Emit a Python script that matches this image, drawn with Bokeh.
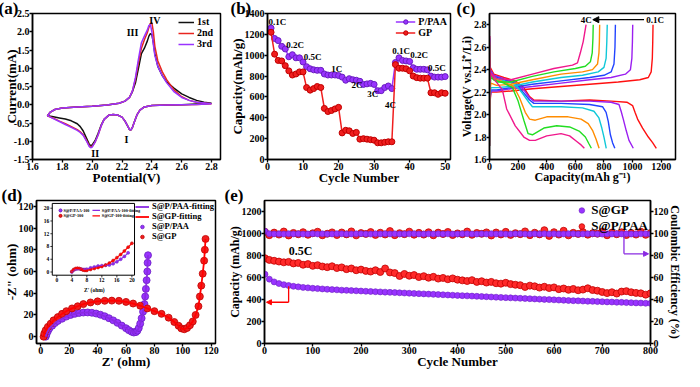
import math
from bokeh.plotting import figure
from bokeh.layouts import column, row
from bokeh.models import (Range1d, Legend, LegendItem, Arrow, NormalHead, LinearAxis,
                          FixedTicker, NumeralTickFormatter)
from bokeh.embed import file_html
from bokeh.resources import INLINE
from bokeh.core.properties import value

FONT = "Liberation Serif"
BLACK = "#111111"
RED = "#F01E1E"
RED_EDGE = "#C00000"
PURPLE = "#9933FF"
PURPLE_EDGE = "#6A1FC0"

# ---------------- (a) CV data ----------------
cv_potential = [2.80, 2.70, 2.60, 2.50, 2.40, 2.35, 2.32, 2.30, 2.28, 2.27, 2.26, 2.25, 2.24, 2.22, 2.20,
                2.17, 2.14, 2.11, 2.08, 2.06, 2.04, 2.02, 2.00, 1.99, 1.98, 1.96, 1.94, 1.92, 1.90, 1.86,
                1.82, 1.78, 1.74, 1.70,
                1.72, 1.75, 1.80, 1.90, 2.00, 2.10, 2.18, 2.22, 2.25, 2.27, 2.29, 2.31, 2.33, 2.35, 2.37,
                2.38, 2.39, 2.40, 2.41, 2.42, 2.44, 2.47, 2.50, 2.55, 2.60, 2.65, 2.70, 2.75, 2.80]
cv_1st = [0.04, 0.02, 0.00, -0.01, -0.02, -0.06, -0.15, -0.28, -0.50, -0.62, -0.69, -0.68, -0.60, -0.45, -0.34,
          -0.28, -0.27, -0.29, -0.40, -0.56, -0.78, -0.98, -1.10, -1.12, -1.08, -0.90, -0.72, -0.60, -0.52, -0.44,
          -0.39, -0.36, -0.33, -0.30,
          -0.20, -0.13, -0.09, -0.06, -0.04, -0.01, 0.04, 0.10, 0.20, 0.36, 0.60, 1.00, 1.40, 1.55, 1.75,
          1.88, 1.95, 1.92, 1.70, 1.40, 1.05, 0.80, 0.62, 0.45, 0.30, 0.20, 0.12, 0.07, 0.04]
cv_2nd = [0.03, 0.01, 0.00, -0.01, -0.02, -0.06, -0.15, -0.28, -0.50, -0.62, -0.69, -0.68, -0.60, -0.45, -0.34,
          -0.28, -0.27, -0.29, -0.40, -0.58, -0.82, -1.02, -1.14, -1.16, -1.12, -0.96, -0.82, -0.74, -0.68, -0.60,
          -0.52, -0.45, -0.37, -0.30,
          -0.20, -0.13, -0.09, -0.06, -0.04, -0.01, 0.04, 0.10, 0.20, 0.38, 0.70, 1.15, 1.55, 1.78, 1.98,
          2.12, 2.22, 2.25, 2.00, 1.60, 1.20, 0.90, 0.68, 0.40, 0.22, 0.12, 0.07, 0.05, 0.03]
cv_3rd = [0.03, 0.01, 0.00, -0.01, -0.02, -0.06, -0.15, -0.28, -0.50, -0.62, -0.69, -0.68, -0.60, -0.45, -0.34,
          -0.28, -0.27, -0.29, -0.40, -0.58, -0.82, -1.02, -1.16, -1.18, -1.14, -0.98, -0.84, -0.76, -0.70, -0.62,
          -0.54, -0.46, -0.38, -0.30,
          -0.20, -0.13, -0.09, -0.06, -0.04, -0.01, 0.04, 0.10, 0.20, 0.38, 0.75, 1.25, 1.70, 1.88, 2.05,
          2.17, 2.20, 2.00, 1.65, 1.35, 1.05, 0.80, 0.60, 0.35, 0.20, 0.12, 0.07, 0.05, 0.03]
cv_peak_text = ["I", "II", "III", "IV"]
cv_peak_x = [2.23, 2.02, 2.27, 2.42]
cv_peak_y = [-0.95, -1.33, 1.98, 2.32]
cv_xticks = [1.6, 1.8, 2.0, 2.2, 2.4, 2.6, 2.8]
cv_yticks = [-1.5, -1.0, -0.5, 0.0, 0.5, 1.0, 1.5, 2.0, 2.5]

# ---------------- (b) rate data ----------------
rate_cycle = list(range(1, 51))
rate_ppaa = [1260, 1160, 1140, 1085, 1060, 985, 1005, 975, 975, 935,
             890, 870, 860, 855, 855, 820, 810, 810, 810, 805,
             790, 760, 775, 765, 760, 750, 720, 725, 730, 720,
             660, 660, 690, 705, 680, 930, 975, 950, 945, 940,
             880, 865, 865, 865, 860, 800, 790, 790, 790, 795]
rate_gp = [1220, 1010, 950, 945, 900, 850, 810, 820, 840, 840,
           690, 665, 680, 700, 690, 490, 460, 470, 485, 500,
           255, 280, 275, 250, 260, 195, 200, 195, 190, 185,
           160, 160, 165, 170, 170, 910, 875, 875, 870, 850,
           800, 785, 780, 780, 780, 640, 640, 625, 640, 635]
rate_lab_txt = ["0.1C", "0.2C", "0.5C", "1C", "2C", "3C", "4C", "0.1C", "0.2C", "0.5C"]
rate_lab_x = [2.8, 7.8, 12.7, 19.5, 25.2, 29.6, 34.6, 37.6, 42.7, 47.7]
rate_lab_y = [1320, 1100, 985, 870, 715, 625, 525, 1040, 1000, 880]
rate_xticks = [0, 10, 20, 30, 40, 50]
rate_yticks = [0, 200, 400, 600, 800, 1000, 1200, 1400]

# ---------------- (c) charge/discharge data ----------------
gc_rates = ["0.1C", "0.2C", "0.5C", "1C", "2C", "3C", "4C"]
gc_colors = ["#FF1010", "#9B1FF0", "#2244FF", "#10C8D8", "#FF8C00", "#22DD22", "#F0188C"]
c01_dis_cap = [0, 5, 30, 100, 180, 240, 280, 310, 500, 700, 850, 960, 1000, 1017, 1035, 1070, 1110, 1140, 1166]
c01_dis_v = [2.70, 2.42, 2.36, 2.33, 2.30, 2.24, 2.16, 2.13, 2.12, 2.13, 2.12, 2.11, 2.08, 2.02, 1.96, 1.88, 1.80, 1.75, 1.70]
c01_chg_cap = [0, 3, 10, 50, 150, 300, 500, 700, 900, 1050, 1110, 1130, 1138, 1141, 1143]
c01_chg_v = [1.72, 2.10, 2.20, 2.20, 2.21, 2.23, 2.25, 2.27, 2.29, 2.31, 2.33, 2.38, 2.50, 2.65, 2.80]
c02_dis_cap = [0, 5, 30, 100, 180, 240, 280, 310, 500, 700, 850, 905, 920, 935, 955, 975, 1005]
c02_dis_v = [2.70, 2.40, 2.35, 2.32, 2.29, 2.22, 2.15, 2.12, 2.12, 2.12, 2.11, 2.09, 2.03, 1.96, 1.86, 1.77, 1.70]
c02_chg_cap = [0, 3, 10, 50, 150, 300, 500, 700, 850, 950, 985, 995, 999, 1001]
c02_chg_v = [1.72, 2.12, 2.21, 2.21, 2.23, 2.25, 2.28, 2.31, 2.33, 2.36, 2.40, 2.50, 2.65, 2.80]
c05_dis_cap = [0, 5, 30, 100, 180, 235, 280, 310, 500, 700, 790, 815, 830, 845, 860, 876]
c05_dis_v = [2.68, 2.39, 2.34, 2.31, 2.28, 2.20, 2.13, 2.10, 2.10, 2.09, 2.07, 2.02, 1.94, 1.82, 1.75, 1.70]
c05_chg_cap = [0, 3, 10, 50, 150, 300, 500, 700, 800, 850, 870, 877, 880]
c05_chg_v = [1.72, 2.14, 2.22, 2.22, 2.24, 2.27, 2.30, 2.33, 2.35, 2.38, 2.45, 2.60, 2.80]
c1_dis_cap = [0, 5, 30, 100, 180, 230, 275, 300, 500, 650, 730, 765, 785, 800, 816]
c1_dis_v = [2.66, 2.38, 2.33, 2.30, 2.27, 2.19, 2.11, 2.07, 2.07, 2.06, 2.03, 1.97, 1.88, 1.80, 1.70]
c1_chg_cap = [0, 3, 10, 50, 150, 300, 500, 650, 760, 800, 815, 820, 823]
c1_chg_v = [1.72, 2.16, 2.24, 2.24, 2.25, 2.29, 2.33, 2.35, 2.38, 2.42, 2.50, 2.65, 2.80]
c2_dis_cap = [0, 5, 30, 100, 170, 210, 250, 280, 320, 400, 550, 640, 690, 720, 745, 766]
c2_dis_v = [2.65, 2.37, 2.32, 2.29, 2.25, 2.15, 2.02, 1.96, 1.95, 1.98, 1.98, 1.96, 1.92, 1.86, 1.78, 1.70]
c2_chg_cap = [0, 3, 10, 50, 150, 300, 500, 650, 720, 755, 765, 768, 770]
c2_chg_v = [1.72, 2.20, 2.28, 2.26, 2.27, 2.31, 2.36, 2.38, 2.40, 2.45, 2.55, 2.65, 2.80]
c3_dis_cap = [0, 5, 30, 100, 160, 200, 240, 270, 300, 380, 470, 560, 630, 670, 695, 712]
c3_dis_v = [2.62, 2.36, 2.31, 2.28, 2.24, 2.12, 1.95, 1.83, 1.82, 1.88, 1.90, 1.89, 1.85, 1.80, 1.74, 1.70]
c3_chg_cap = [0, 3, 10, 50, 150, 300, 450, 600, 670, 705, 718, 723, 725]
c3_chg_v = [1.72, 2.24, 2.33, 2.29, 2.29, 2.34, 2.38, 2.41, 2.43, 2.47, 2.55, 2.68, 2.80]
c4_dis_cap = [0, 5, 30, 90, 120, 180, 240, 280, 320, 400, 500, 560, 610, 640, 663]
c4_dis_v = [2.70, 2.38, 2.32, 2.22, 2.05, 1.90, 1.80, 1.77, 1.77, 1.81, 1.83, 1.81, 1.76, 1.73, 1.70]
c4_chg_cap = [0, 3, 10, 50, 150, 300, 450, 580, 615, 635, 655, 675]
c4_chg_v = [1.72, 2.28, 2.37, 2.32, 2.31, 2.36, 2.41, 2.44, 2.46, 2.55, 2.65, 2.80]
gc_xticks = [0, 200, 400, 600, 800, 1000, 1200]
gc_yticks = [1.6, 1.8, 2.0, 2.2, 2.4, 2.6, 2.8]

# ---------------- (d) EIS data ----------------
nyq_ppaa_x = [3.5, 4, 5, 6, 8, 10, 12, 15, 18, 21, 24, 27, 30, 33, 36, 39, 42, 45, 48, 51, 54, 57, 60, 62, 64,
              65.5, 67, 68, 69, 70, 71, 72, 73, 73.5, 74, 74.5, 75, 75.2, 75.5]
nyq_ppaa_y = [0, 2, 5, 7.5, 10, 12.5, 14.5, 16.5, 18.5, 20, 21, 21.8, 22.2, 22.3, 22, 21.3, 20.2, 18.8, 17, 15,
              12.7, 10.2, 7.8, 6, 4.5, 3.8, 4.2, 5.5, 8, 12, 17, 23, 30, 37, 44, 52, 60, 68, 75]
nyq_gp_x = [2, 2.5, 3.5, 5, 7, 9, 12, 15, 18, 22, 26, 30, 35, 40, 45, 50, 55, 60, 65, 70, 75, 80, 85, 90, 94,
            97, 99, 101, 103, 105, 107, 109, 111, 112, 113, 114, 115, 115.5, 116]
nyq_gp_y = [0, 3, 6, 9, 12, 15, 18, 21, 23.5, 26, 28, 30, 31.5, 32.5, 33, 33.2, 33, 32, 30.5, 28.5, 26, 23.5,
            21, 17.5, 13.5, 10, 7.6, 6.8, 8, 10.5, 14, 20, 28, 37, 47, 58, 70, 80, 90]
ins_ppaa_x = [4, 4.5, 5, 5.5, 6, 6.5, 7, 7.5, 8, 9, 10, 11, 12, 13, 14, 15, 16, 17, 18, 19]
ins_ppaa_y = [0, 0.6, 0.9, 1.0, 1.0, 0.9, 0.8, 0.8, 0.9, 1.3, 1.6, 1.9, 2.0, 2.1, 2.2, 2.6, 3.2, 4.0, 4.9, 6.0]
ins_gp_x = [4, 4.5, 5, 5.5, 6, 6.5, 7, 7.5, 8, 9, 10, 11, 12, 13, 14, 15, 16, 17, 18, 19, 20]
ins_gp_y = [0.2, 0.8, 1.1, 1.2, 1.1, 0.9, 0.6, 0.5, 0.5, 0.8, 1.1, 1.4, 1.7, 2.2, 2.8, 3.6, 4.5, 5.5, 6.6, 7.8, 9.0]
ins_ticks = [0, 4, 8, 12, 16, 20]
ins_tick_txt = ["0", "4", "8", "12", "16", "20"]
eis_ticks = [0, 20, 40, 60, 80, 100, 120]
# inset placement inside panel (d), in panel (d) data units
INSET_BOX = dict(left=8.1, right=66.0, bottom=56.6, top=122.7)
INSET_SRC = dict(x0=-1.2, x1=20.7, y0=-1.0, y1=21.5)

# ---------------- (e) long cycling data ----------------
cyc = [1] + list(range(10, 801, 10))
cap_ppaa = [775, 760, 752, 745, 738, 742, 728, 732, 716, 722,
            706, 712, 700, 694, 702, 686, 692, 676, 682, 666,
            672, 660, 654, 666, 650, 682, 646, 640, 614, 632,
            616, 622, 604, 612, 598, 606, 590, 596, 584, 592,
            580, 574, 568, 576, 560, 566, 554, 560, 548, 544,
            552, 540, 534, 530, 514, 526, 520, 508, 516, 504,
            510, 494, 500, 488, 496, 484, 490, 502, 486, 480,
            468, 458, 466, 454, 472, 476, 466, 460, 456, 444,
            456]
cap_gp = [630, 585, 560, 545, 535, 527, 520, 515, 510, 506,
          502, 499, 496, 493, 490, 488, 485, 483, 481, 479,
          477, 475, 473, 471, 469, 467, 465, 463, 461, 459,
          457, 455, 453, 451, 449, 447, 445, 443, 441, 439,
          437, 435, 433, 431, 429, 427, 425, 423, 421, 419,
          417, 415, 413, 411, 409, 407, 405, 403, 401, 399,
          397, 395, 393, 391, 389, 388, 386, 384, 383, 381,
          380, 378, 377, 375, 374, 372, 371, 369, 368, 366,
          365]
ce_ppaa = [101.5, 98.5, 100.8, 99.0, 101.8, 98.2, 100.5, 99.3, 101.2, 98.8,
           100.2, 101.6, 98.4, 99.8, 101.0, 98.6, 100.9, 99.2, 101.9, 98.3,
           100.4, 99.6, 101.3, 98.7, 100.7, 99.1, 102.2, 98.5, 100.3, 99.4,
           101.7, 98.9, 100.6, 99.0, 101.1, 98.4, 100.8, 99.5, 101.4, 98.6,
           100.1, 99.3, 101.8, 98.8, 100.5, 99.7, 101.0, 98.2, 100.9, 99.1,
           101.5, 98.7, 100.3, 99.4, 101.9, 98.5, 100.7, 99.2, 103.0, 97.8,
           101.2, 99.0, 102.5, 98.3, 100.6, 99.6, 101.3, 98.9, 100.2, 99.8,
           101.7, 98.4, 100.8, 99.3, 101.1, 98.6, 100.5, 99.0, 101.6, 98.8,
           100.4]
ce_gp = [102.0, 99.8, 99.6, 99.7, 99.5, 99.8, 99.6, 99.7, 99.5, 99.6,
         99.8, 99.6, 99.7, 99.5, 99.6, 99.8, 99.7, 99.5, 99.6, 99.7,
         99.8, 99.6, 99.5, 99.7, 99.6, 99.8, 99.6, 99.7, 99.5, 99.6,
         99.7, 99.8, 99.6, 99.5, 99.7, 99.6, 99.8, 99.6, 99.7, 99.5,
         99.6, 99.7, 99.8, 99.6, 99.5, 99.7, 99.6, 99.8, 99.6, 99.7,
         99.5, 99.6, 99.7, 99.8, 99.6, 99.5, 99.7, 99.6, 99.8, 99.6,
         99.7, 99.5, 99.6, 99.8, 99.7, 99.5, 99.6, 99.7, 99.8, 99.6,
         99.5, 99.7, 99.6, 99.8, 99.6, 99.7, 99.5, 99.6, 99.7, 99.8,
         99.6]
cyc_xticks = [0, 100, 200, 300, 400, 500, 600, 700, 800]
cyc_yticks = [0, 200, 400, 600, 800, 1000, 1200]
ce_ticks = [0, 20, 40, 60, 80, 100, 120]
arrow_red_x = [50, 50, 4]
arrow_red_y = [520, 375, 375]
arrow_pur_x = [745, 745, 796]
arrow_pur_y = [990, 815, 815]


def make_fig(w, h, xr, yr, bl, br, bt, bb):
    return figure(width=w, height=h, x_range=Range1d(*xr), y_range=Range1d(*yr),
                  output_backend="svg", toolbar_location=None,
                  min_border_left=bl, min_border_right=br, min_border_top=bt, min_border_bottom=bb)


def style(p, lab_size="13px", ylab_standoff=-3):
    p.outline_line_color = "black"
    p.outline_line_width = 1.5
    p.outline_line_alpha = 1
    p.grid.visible = False
    for ax in p.axis:
        ax.axis_line_width = 1.5
        ax.axis_line_color = "black"
        ax.major_tick_line_width = 1.3
        ax.major_tick_line_color = "black"
        ax.major_tick_out = 3
        ax.major_tick_in = 0
        ax.minor_tick_line_color = None
        ax.major_label_text_font = FONT
        ax.major_label_text_font_style = "bold"
        ax.major_label_text_font_size = "10px"
        ax.major_label_text_color = "black"
        ax.axis_label_text_font = FONT
        ax.axis_label_text_font_style = "bold"
        ax.axis_label_text_font_size = lab_size
        ax.axis_label_text_color = "black"
        ax.major_label_standoff = 0
        ax.axis_label_standoff = ylab_standoff
    for ax in p.xaxis:
        ax.axis_label_standoff = -3


def panel_label(p, txt, dx, dy=-8):
    t = p.title
    t.text = txt
    t.align = "left"
    t.offset = dx
    t.standoff = dy
    t.text_font = FONT
    t.text_font_style = "bold"
    t.text_font_size = "17px"
    t.text_color = "black"


def make_legend(p, items, size="10px", gw=18, gh=10, lh=10, loc="top_right", margin=3):
    lg = Legend(items=items, location=loc, background_fill_alpha=0, border_line_color=None,
                label_text_font=FONT, label_text_font_style="bold", label_text_font_size=size,
                label_text_color="black",
                glyph_width=gw, glyph_height=gh, label_height=lh, spacing=0, padding=2,
                margin=margin, label_standoff=3)
    p.add_layout(lg)
    return lg


TXT = dict(text_font=value(FONT), text_font_style="bold", text_color="black")

# ---------------- (a) ----------------
pa = make_fig(226, 187, (1.6, 2.86), (-1.5, 2.5), 32, 6, 10, 26)
la1 = pa.line(cv_potential, cv_1st, color=BLACK, line_width=1.5)
la2 = pa.line(cv_potential, cv_2nd, color="#E8251F", line_width=1.5)
la3 = pa.line(cv_potential, cv_3rd, color=PURPLE, line_width=1.5)
pa.text(x=cv_peak_x, y=cv_peak_y, text=cv_peak_text, text_font_size="10px",
        text_align="center", text_baseline="middle", **TXT)
pa.xaxis.axis_label = "Potential(V)"
pa.yaxis.axis_label = "Current(mA)"
pa.xaxis.ticker = FixedTicker(ticks=cv_xticks)
pa.yaxis.ticker = FixedTicker(ticks=cv_yticks)
pa.xaxis.formatter = NumeralTickFormatter(format="0.0")
pa.yaxis.formatter = NumeralTickFormatter(format="0.0")
make_legend(pa, [("1st", [la1]), ("2nd", [la2]), ("3rd", [la3])], gw=16)
style(pa, ylab_standoff=-8)
panel_label(pa, "(a)", -34)

# ---------------- (b) ----------------
pb = make_fig(228, 187, (0, 51.5), (0, 1400), 36, 4, 10, 26)
lb1 = pb.line(rate_cycle, rate_ppaa, color=PURPLE, line_width=1.5)
sb1 = pb.scatter(rate_cycle, rate_ppaa, size=6, fill_color=PURPLE, line_color=PURPLE_EDGE)
lb2 = pb.line(rate_cycle, rate_gp, color=RED, line_width=1.5)
sb2 = pb.scatter(rate_cycle, rate_gp, size=6, fill_color=RED, line_color=RED_EDGE)
pb.text(x=rate_lab_x, y=rate_lab_y, text=rate_lab_txt, text_font_size="9px",
        text_align="center", text_baseline="middle", **TXT)
pb.xaxis.axis_label = "Cycle Number"
pb.yaxis.axis_label = "Capacity(mAh/g)"
pb.xaxis.ticker = FixedTicker(ticks=rate_xticks)
pb.yaxis.ticker = FixedTicker(ticks=rate_yticks)
make_legend(pb, [LegendItem(label="P/PAA", renderers=[lb1, sb1]),
                 LegendItem(label="GP", renderers=[lb2, sb2])], gw=20, gh=11, lh=11)
style(pb)
panel_label(pb, "(b)", -37)

# ---------------- (c) ----------------
pc = make_fig(230, 187, (0, 1300), (1.6, 2.9), 35, 9, 10, 26)
gc_dis = [(c01_dis_cap, c01_dis_v), (c02_dis_cap, c02_dis_v), (c05_dis_cap, c05_dis_v), (c1_dis_cap, c1_dis_v),
          (c2_dis_cap, c2_dis_v), (c3_dis_cap, c3_dis_v), (c4_dis_cap, c4_dis_v)]
gc_chg = [(c01_chg_cap, c01_chg_v), (c02_chg_cap, c02_chg_v), (c05_chg_cap, c05_chg_v), (c1_chg_cap, c1_chg_v),
          (c2_chg_cap, c2_chg_v), (c3_chg_cap, c3_chg_v), (c4_chg_cap, c4_chg_v)]
for (dc, dv), (cc, cv), col in zip(gc_dis, gc_chg, gc_colors):
    pc.line(dc, dv, color=col, line_width=1.4)
    pc.line(cc, cv, color=col, line_width=1.4)
pc.add_layout(Arrow(end=NormalHead(size=6, fill_color="black", line_color="black"),
                    x_start=1080, y_start=2.845, x_end=722, y_end=2.845, line_width=1.2, line_color="black"))
pc.text(x=[715], y=[2.845], text=[gc_rates[-1]], text_font_size="9px", text_align="right",
        text_baseline="middle", **TXT)
pc.text(x=[1095], y=[2.845], text=[gc_rates[0]], text_font_size="9px", text_align="left",
        text_baseline="middle", **TXT)
pc.xaxis.axis_label = "Capacity(mAh g\u207b\u00b9)"
pc.yaxis.axis_label = "Voltage(V vs.Li\u207a/Li)"
pc.xaxis.ticker = FixedTicker(ticks=gc_xticks)
pc.yaxis.ticker = FixedTicker(ticks=gc_yticks)
pc.yaxis.formatter = NumeralTickFormatter(format="0.0")
style(pc, lab_size="12px")
panel_label(pc, "(c)", -33)

# ---------------- (d) ----------------
pdd = make_fig(224, 184, (-3, 123), (-6.3, 125.4), 30, 9, 9, 26)
sd1 = pdd.scatter(nyq_ppaa_x, nyq_ppaa_y, size=7, fill_color=PURPLE, line_color=PURPLE_EDGE, line_width=0.8)
sd2 = pdd.scatter(nyq_gp_x, nyq_gp_y, size=7, fill_color=RED, line_color=RED_EDGE, line_width=0.8)
ld1 = pdd.line(nyq_ppaa_x, nyq_ppaa_y, color="#8A2BE2", line_width=1.8)
ld2 = pdd.line(nyq_gp_x, nyq_gp_y, color="#FF0000", line_width=1.8)
# inset
pdd.quad(left=[INSET_BOX["left"]], right=[INSET_BOX["right"]], bottom=[INSET_BOX["bottom"]],
         top=[INSET_BOX["top"]], fill_color="white", line_color="black", line_width=1)
sub = pdd.subplot(x_source=Range1d(INSET_SRC["x0"], INSET_SRC["x1"]),
                  y_source=Range1d(INSET_SRC["y0"], INSET_SRC["y1"]),
                  x_target=Range1d(INSET_BOX["left"], INSET_BOX["right"]),
                  y_target=Range1d(INSET_BOX["bottom"], INSET_BOX["top"]))
sub.scatter(ins_ppaa_x, ins_ppaa_y, size=3, fill_color=PURPLE, line_color=PURPLE_EDGE, line_width=0.5)
sub.scatter(ins_gp_x, ins_gp_y, size=3, fill_color=RED, line_color=RED_EDGE, line_width=0.5)
sub.line(ins_ppaa_x, ins_ppaa_y, color="#8A2BE2", line_width=1.2)
sub.line(ins_gp_x, ins_gp_y, color="#FF0000", line_width=1.2)
y0 = INSET_SRC["y0"]
x0 = INSET_SRC["x0"]
sub.segment(x0=ins_ticks, y0=[y0] * 6, x1=ins_ticks, y1=[y0 - 0.7] * 6, color="black", line_width=0.8)
sub.segment(x0=[x0] * 6, y0=ins_ticks, x1=[x0 - 0.5] * 6, y1=ins_ticks, color="black", line_width=0.8)
sub.text(x=ins_ticks, y=[y0 - 1.0] * 6, text=ins_tick_txt, text_font_size="5.5px", text_align="center",
         text_baseline="top", **TXT)
sub.text(x=[x0 - 0.8] * 6, y=ins_ticks, text=ins_tick_txt, text_font_size="5.5px", text_align="right",
         text_baseline="middle", **TXT)
sub.text(x=[10], y=[y0 - 3.6], text=["Z' (ohm)"], text_font_size="5.5px", text_align="center",
         text_baseline="top", **TXT)
sub.text(x=[x0 - 4.6], y=[10], text=["-Z'' (ohm)"], text_font_size="5.5px", text_align="center",
         text_baseline="bottom", angle=1.5708, **TXT)
sub.scatter([1.0, 1.0], [19.3, 17.6], size=3, fill_color=[PURPLE, RED], line_color=[PURPLE_EDGE, RED_EDGE])
sub.segment(x0=[9.5, 9.5], y0=[19.3, 17.6], x1=[11.5, 11.5], y1=[19.3, 17.6], color=["#8A2BE2", "#FF0000"],
            line_width=1.2)
sub.text(x=[1.8, 1.8, 12.0, 12.0], y=[19.3, 17.6, 19.3, 17.6],
         text=["S@P/PAA-100", "S@GP-100", "S@P/PAA-100-fitting", "S@GP-100-fitting"],
         text_font_size="4.2px", text_align="left", text_baseline="middle", **TXT)
pdd.xaxis.axis_label = "Z' (ohm)"
pdd.yaxis.axis_label = "-Z\" (ohm)"
pdd.xaxis.ticker = FixedTicker(ticks=eis_ticks)
pdd.yaxis.ticker = FixedTicker(ticks=eis_ticks)
make_legend(pdd, [LegendItem(label="S@P/PAA-fitting", renderers=[ld1]),
                  LegendItem(label="S@GP-fitting", renderers=[ld2]),
                  LegendItem(label="S@P/PAA", renderers=[sd1]),
                  LegendItem(label="S@GP", renderers=[sd2])], size="8.5px", gw=14, gh=9, lh=9, margin=1)
style(pdd)
panel_label(pdd, "(d)", -35)

# ---------------- (e) ----------------
pe = make_fig(460, 184, (0, 800), (0, 1300), 40, 26, 9, 26)
pe.extra_y_ranges = {"ce": Range1d(0, 130)}
ax_ce = LinearAxis(y_range_name="ce", axis_label="Coulombic Efficiency (%)",
                   ticker=FixedTicker(ticks=ce_ticks))
pe.add_layout(ax_ce, "right")
se_r = pe.scatter(cyc, cap_ppaa, size=7, fill_color="#FF2A2A", line_color=RED_EDGE, line_width=0.8)
pe.scatter(cyc, ce_ppaa, size=7, fill_color="#FF2A2A", line_color=RED_EDGE, line_width=0.8, y_range_name="ce")
se_p = pe.scatter(cyc, cap_gp, size=6, fill_color=PURPLE, line_color=PURPLE_EDGE, line_width=0.6)
pe.scatter(cyc, ce_gp, size=6, fill_color=PURPLE, line_color=PURPLE_EDGE, line_width=0.6, y_range_name="ce")
pe.add_layout(Arrow(end=None, x_start=arrow_red_x[0], y_start=arrow_red_y[0], x_end=arrow_red_x[1],
                    y_end=arrow_red_y[1], line_color="#FF0000", line_width=1.3))
pe.add_layout(Arrow(end=NormalHead(size=5, fill_color="#FF0000", line_color="#FF0000"),
                    x_start=arrow_red_x[1], y_start=arrow_red_y[1], x_end=arrow_red_x[2],
                    y_end=arrow_red_y[2], line_color="#FF0000", line_width=1.3))
pe.add_layout(Arrow(end=None, x_start=arrow_pur_x[0], y_start=arrow_pur_y[0], x_end=arrow_pur_x[1],
                    y_end=arrow_pur_y[1], line_color="#8A2BE2", line_width=1.3))
pe.add_layout(Arrow(end=NormalHead(size=5, fill_color="#8A2BE2", line_color="#8A2BE2"),
                    x_start=arrow_pur_x[1], y_start=arrow_pur_y[1], x_end=arrow_pur_x[2],
                    y_end=arrow_pur_y[2], line_color="#8A2BE2", line_width=1.3))
pe.text(x=[75], y=[845], text=["0.5C"], text_font_size="12px", text_align="center",
        text_baseline="middle", **TXT)
pe.xaxis.axis_label = "Cycle Number"
pe.yaxis[0].axis_label = "Capacity (mAh/g)"
pe.xaxis.ticker = FixedTicker(ticks=cyc_xticks)
pe.yaxis[0].ticker = FixedTicker(ticks=cyc_yticks)
make_legend(pe, [LegendItem(label="S@GP", renderers=[se_p]),
                 LegendItem(label="S@P/PAA", renderers=[se_r])], size="13px", gw=14, gh=14, lh=14, margin=2)
style(pe)
for ax in pe.yaxis:
    ax.axis_label_text_font_size = "12px"
ax_ce.axis_label_standoff = -4
panel_label(pe, "(e)", -40)

layout = column(row(pa, pb, pc), row(pdd, pe))
open("out.html", "w").write(file_html(layout, INLINE))
